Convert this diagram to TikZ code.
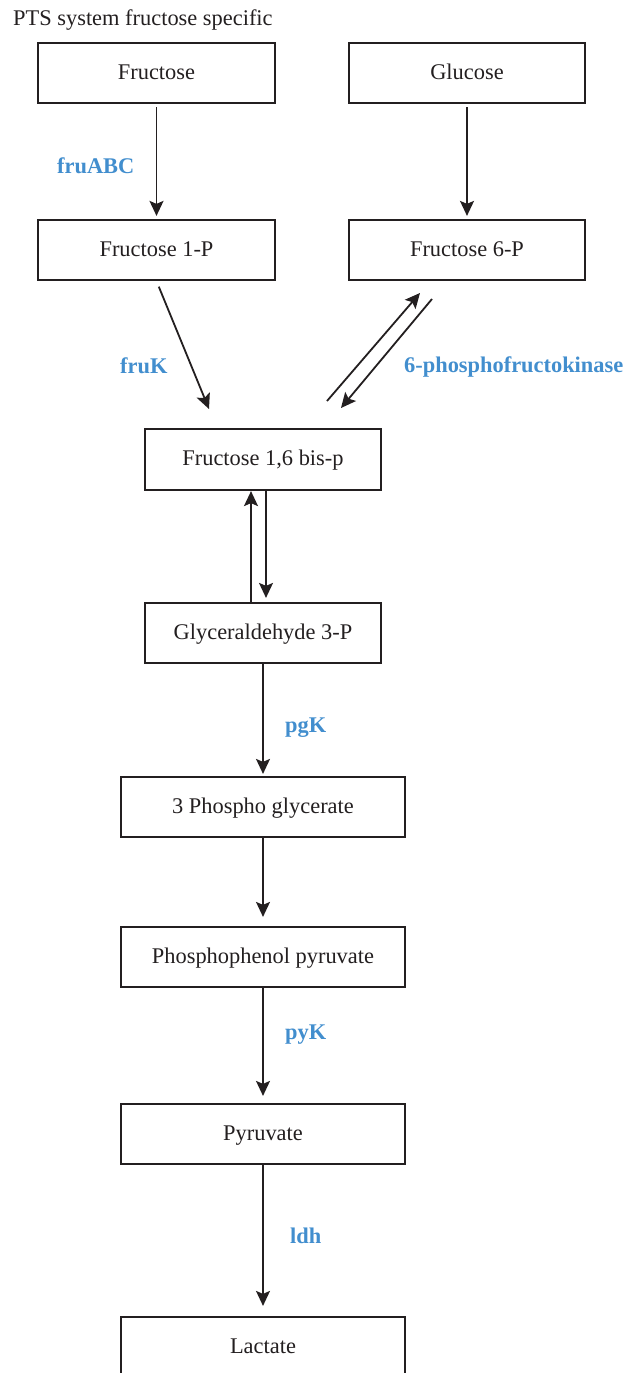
\documentclass[tikz,border=0pt]{standalone}
\usepackage{fontspec}
\setmainfont{Liberation Serif}
\usetikzlibrary{arrows.meta}
\definecolor{enzblue}{RGB}{66,142,206}
\definecolor{inkgray}{RGB}{35,31,32}

\begin{document}
\begin{tikzpicture}[x=1pt,y=-1pt,
    font=\fontsize{22.4}{26}\selectfont, color=inkgray,
    box/.style={draw, line width=2.2pt, rectangle, minimum height=60pt, text height=14pt, text depth=2pt, inner sep=0pt},
    enz/.style={text=enzblue, font=\fontsize{22.4}{26}\selectfont\bfseries, anchor=base west, inner sep=0pt},
    arr/.style={line width=1.8pt, -{Stealth[length=15pt 0, width=14pt 0, inset=3pt 0]}}]
	\useasboundingbox (0,0) rectangle (628,1373);
        \node[anchor=base west, inner sep=0pt] (title) at (13,25) {PTS system fructose specific};
        % upper part: the two sugars
        \node[box, minimum width=237pt] (fru) at (156.5,73) {Fructose};
        \node[box, minimum width=236pt] (glc) at (467,73) {Glucose};
        \node[box, minimum width=237pt] (f1p) at (156.5,250) {Fructose 1-P};
        \node[box, minimum width=236pt] (f6p) at (467,250) {Fructose 6-P};
        \node[box, minimum width=236pt, minimum height=61pt] (bisp) at (263,459.5) {Fructose 1,6 bis-p};
        \node[box, minimum width=236pt] (gap) at (263,633) {Glyceraldehyde 3-P};
        % lower chain
        \foreach \name/\ypos/\txt in {pga/807/3 Phospho glycerate, pep/957/Phosphophenol pyruvate, pyr/1134/Pyruvate, lac/1347/Lactate}
        \node[box, minimum width=284pt] (\name) at (263,\ypos) {\txt};
        \draw[arr, shorten <=3pt, shorten >=3pt] (fru) -- (f1p);
        \draw[arr, shorten <=3pt, shorten >=3pt] (glc) -- (f6p);
        \coordinate (fruKtip) at (209,409);
        \draw[arr, shorten <=6pt] (f1p.south) -- (fruKtip);
        \coordinate (pfkUpFoot) at (327,401);
        \coordinate (pfkUpTip) at (420,293);
        \coordinate (pfkDnFoot) at (432,299);
        \coordinate (pfkDnTip) at (341,408);
        \draw[arr] (pfkUpFoot) -- (pfkUpTip);
        \draw[arr] (pfkDnFoot) -- (pfkDnTip);
        \draw[arr] ([xshift=-12pt]gap.north) -- ([xshift=-12pt]bisp.south);
        \draw[arr, shorten >=4pt] ([xshift=3pt]bisp.south) -- ([xshift=3pt]gap.north);
        \foreach \from/\to/\tipgap in {gap/pga/2, pga/pep/9, pep/pyr/7, pyr/lac/10}
        \draw[arr, shorten >=\tipgap] (\from) -- (\to);
        % enzymes
        \node[enz] (fruABC) at (57,173) {fruABC};
        \node[enz] (fruK) at (120,373) {fruK};
        \node[enz] (pfk) at (404,372) {6-phosphofructokinase};
        \node[enz] (pgK) at (285,732) {pgK};
        \node[enz] (pyK) at (285,1039) {pyK};
        \node[enz] (ldh) at (290,1243) {ldh};
\end{tikzpicture}
\end{document}
